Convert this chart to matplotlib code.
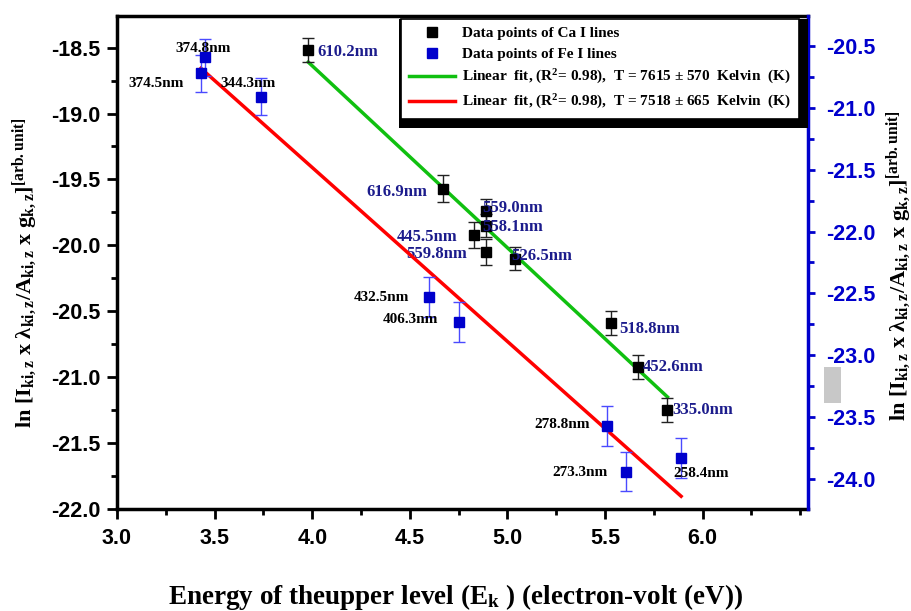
import numpy as np
import matplotlib.pyplot as plt
from matplotlib.ticker import MultipleLocator
from matplotlib.patches import Rectangle
from matplotlib.lines import Line2D

plt.rcParams['font.family'] = 'Liberation Sans'
plt.rcParams['mathtext.default'] = 'regular'
plt.rcParams['axes.unicode_minus'] = False

# DATA
# Ca I lines -> left axis
ca_E = [3.98, 4.67, 4.89, 4.89, 4.83, 4.89, 5.04, 5.53, 5.67, 5.82]
ca_y = [-18.52, -19.57, -19.74, -19.85, -19.92, -20.05, -20.10, -20.59, -20.92, -21.25]
ca_err = [0.09, 0.10, 0.09, 0.09, 0.10, 0.10, 0.09, 0.09, 0.09, 0.09]
ca_wl = ['610.2nm', '616.9nm', '559.0nm', '558.1nm', '445.5nm',
         '559.8nm', '526.5nm', '518.8nm', '452.6nm', '335.0nm']

# Fe I lines -> right axis
fe_E = [3.45, 3.43, 3.74, 4.60, 4.75, 5.51, 5.61, 5.89]
fe_y = [-20.59, -20.72, -20.91, -22.53, -22.73, -23.57, -23.94, -23.83]
fe_err = [0.15, 0.15, 0.15, 0.16, 0.16, 0.16, 0.16, 0.16]
fe_wl = ['374.8nm', '374.5nm', '344.3nm', '432.5nm', '406.3nm',
         '278.8nm', '273.3nm', '258.4nm']

# linear fits (end points)
fit_ca_E = [3.98, 5.82]
fit_ca_y = [-18.61, -21.15]
fit_fe_E = [3.43, 5.89]
fit_fe_y = [-20.68, -24.14]

x_ticks = [3.0, 3.5, 4.0, 4.5, 5.0, 5.5, 6.0]

leg_labels = ['Data points of Ca I lines',
              'Data points of Fe I lines',
              r'Linear  fit, (R$^{2}$= 0.98),  T = 7615 $\pm$ 570  Kelvin  (K)',
              r'Linear  fit, (R$^{2}$= 0.98),  T = 7518 $\pm$ 665  Kelvin  (K)']

# label placement (pixels from point)
ca_dx = [9, -16, -4, -4, -17, -19, -4, 8, 5, 5]
ca_dy = [-2, -3, 3, -1, -2, -2, 3, -6, 0, 0]
ca_ha = ['left', 'right', 'left', 'left', 'right', 'right', 'left', 'left', 'left', 'left']
fe_dx = [-2, -17, -13, -20, -20, -17, -19, -8]
fe_dy = [9, -10, 13, 0, 2, 1, -1, -16]
fe_ha = ['center', 'right', 'center', 'right', 'right', 'right', 'right', 'left']

BLUE = '#0000cc'
NAVY = '#1c1c8c'
GREEN = '#10c010'
serif = 'Liberation Serif'

fig = plt.figure(figsize=(9.12, 6.11), dpi=100)
ax = fig.add_axes([117/912, 1-509/611, 691/912, 493/611])
ax2 = ax.twinx()

# Ca
ax.errorbar(ca_E, ca_y, yerr=ca_err, fmt='s', color='black', ms=7,
            ecolor='#222222', elinewidth=1, capsize=4, capthick=1, zorder=3)
ax.plot(fit_ca_E, fit_ca_y, color=GREEN, lw=2.5, zorder=2)
for e, y, t, dx, dy, ha in zip(ca_E, ca_y, ca_wl, ca_dx, ca_dy, ca_ha):
    ax.annotate(t, (e, y), xytext=(dx, dy), textcoords='offset pixels',
                ha=ha, va='center', fontsize=12, color=NAVY,
                family=serif, weight='bold', zorder=4)

# Fe
ax2.errorbar(fe_E, fe_y, yerr=fe_err, fmt='s', color=BLUE, ms=7,
             ecolor='#4a4aff', elinewidth=1, capsize=4, capthick=1, zorder=3)
ax2.plot(fit_fe_E, fit_fe_y, color='red', lw=2.5, zorder=2)
for e, y, t, dx, dy, ha in zip(fe_E, fe_y, fe_wl, fe_dx, fe_dy, fe_ha):
    ax2.annotate(t, (e, y), xytext=(dx, dy), textcoords='offset pixels',
                 ha=ha, va='center', fontsize=11, color='black',
                 family=serif, weight='bold', zorder=4)

# axes
ax.set_xlim(3.0, 6.54)
ax.set_ylim(-22.0, -18.26)
ax2.set_ylim(-24.243, -20.257)
ax.set_xticks(x_ticks)
ax.xaxis.set_minor_locator(MultipleLocator(0.25))
ax.yaxis.set_major_locator(MultipleLocator(0.5))
ax.yaxis.set_minor_locator(MultipleLocator(0.25))
ax2.yaxis.set_major_locator(MultipleLocator(0.5))
ax2.yaxis.set_minor_locator(MultipleLocator(0.25))
ax.xaxis.set_major_formatter('{x:.1f}')
ax.yaxis.set_major_formatter('{x:.1f}')
ax2.yaxis.set_major_formatter('{x:.1f}')

for s in ['left', 'bottom', 'top']:
    ax.spines[s].set_linewidth(2.5)
ax.spines['right'].set_visible(False)
for s in ['left', 'bottom', 'top']:
    ax2.spines[s].set_visible(False)
ax2.spines['right'].set_linewidth(2.5)
ax2.spines['right'].set_color(BLUE)

ax.tick_params(axis='both', which='major', length=7, width=2, direction='out')
ax.tick_params(axis='both', which='minor', length=4, width=2, direction='out')
ax.tick_params(axis='y', labelsize=15.5, pad=5)
ax.tick_params(axis='x', labelsize=15.5, pad=7)
ax2.tick_params(axis='y', which='major', length=5, width=2, color=BLUE,
                labelcolor=BLUE, labelsize=15.5, pad=8)
ax2.tick_params(axis='y', which='minor', length=4, width=2, color=BLUE)
for lab in ax.get_xticklabels() + ax.get_yticklabels() + ax2.get_yticklabels():
    lab.set_fontweight('bold')

# legend
handles = [Line2D([], [], ls='none', marker='s', color='black', ms=7),
           Line2D([], [], ls='none', marker='s', color=BLUE, ms=7),
           Line2D([], [], color=GREEN, lw=2.5),
           Line2D([], [], color='red', lw=2.5)]
leg = ax2.legend(handles, leg_labels, loc='upper right',
                 bbox_to_anchor=((799-117)/691, 1-(19-16)/493),
                 borderaxespad=0, fancybox=False, edgecolor='black',
                 framealpha=1, handlelength=3, handletextpad=0.5,
                 labelspacing=0.45, borderpad=0.5,
                 prop={'family': serif, 'weight': 'bold', 'size': 11})
leg.get_frame().set_linewidth(1.2)
leg.set_zorder(10)

fig.canvas.draw()
bb = leg.get_window_extent()
shadow = Rectangle((bb.x0 - 2, bb.y0 - 9), bb.width + 11, bb.height + 9,
                   transform=None, facecolor='black', edgecolor='none', zorder=9)
ax2.add_artist(shadow)

# axis titles
ylab = r'ln [I$_{ki,z}$ x $\lambda_{ki,z}$/A$_{ki,z}$ x g$_{k,z}$]$^{[arb.unit]}$'
fig.text(25/912, 1-273/611, ylab, rotation=90, ha='center', va='center',
         fontsize=16, family=serif, weight='bold')
fig.text(899/912, 1-266/611, ylab, rotation=90, ha='center', va='center',
         fontsize=16, family=serif, weight='bold')
fig.text(455/912, 1-597/611, r'Energy of theupper level (E$_{k}$ ) (electron-volt (eV))',
         ha='center', va='center', fontsize=19.5, family=serif, weight='bold')

# grey box at right side
fig.patches.append(Rectangle((824/912, 1-403/611), 17/912, 36/611,
                             transform=fig.transFigure, facecolor='#c8c8c8',
                             edgecolor='none'))

fig.savefig('out.png', dpi=100)
